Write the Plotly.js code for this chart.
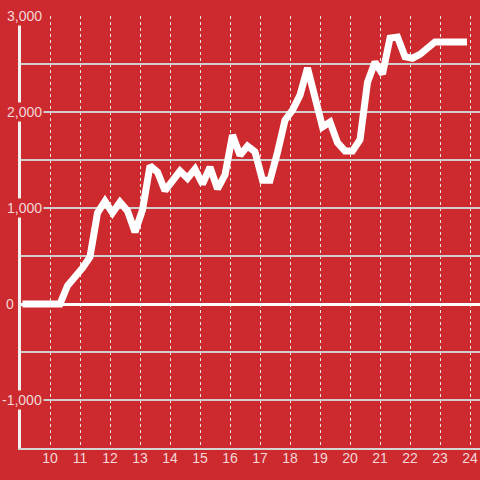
<!DOCTYPE html>
<html>
<head>
<meta charset="utf-8">
<script src="https://cdn.plot.ly/plotly-3.0.1.min.js"></script>
<style>
html,body{margin:0;padding:0;background:#cc2a2f;}
#chart{width:480px;height:480px;}
</style>
</head>
<body>
<div id="chart"></div>
<script>
// hours of day (decimal)
const hours = [9.083, 9.333, 9.583, 9.833, 10.083, 10.333, 10.583, 10.833, 11.083, 11.333,
  11.583, 11.833, 12.083, 12.333, 12.583, 12.833, 13.083, 13.333, 13.583, 13.833,
  14.083, 14.333, 14.583, 14.833, 15.083, 15.333, 15.583, 15.833, 16.083, 16.333,
  16.583, 16.833, 17.083, 17.333, 17.583, 17.833, 18.083, 18.333, 18.583, 18.833,
  19.083, 19.333, 19.583, 19.833, 20.083, 20.333, 20.583, 20.833, 21.083, 21.333,
  21.583, 21.833, 22.083, 22.333, 22.583, 22.833, 23.083, 23.333, 23.583, 23.9];
const values = [0, 0, 0, 0, 0, 0, 190, 270, 375, 490,
  950, 1070, 950, 1060, 970, 750, 980, 1440, 1375, 1180,
  1280, 1385, 1310, 1405, 1250, 1425, 1200, 1345, 1760, 1550,
  1645, 1585, 1290, 1290, 1580, 1915, 2020, 2175, 2460, 2125,
  1845, 1895, 1680, 1595, 1595, 1710, 2310, 2520, 2395, 2770,
  2780, 2575, 2560, 2600, 2655, 2730, 2730, 2730, 2730, 2730];
const xTicks = [10, 11, 12, 13, 14, 15, 16, 17, 18, 19, 20, 21, 22, 23, 24];
const yLabelValues = [3000, 2000, 1000, 0, -1000];
const yLabelTexts = ["3,000", "2,000", "1,000", "0", "-1,000"];

const RED = '#cc2a2f';
const TXT = '#f4d6d7';

const annotations = yLabelValues.map((v, i) => ({
  xref: 'paper', yref: 'y',
  x: v === 0 ? -0.011 : 0.051, y: v,
  xanchor: 'right', yanchor: 'middle',
  text: yLabelTexts[i], showarrow: false,
  bgcolor: RED, borderpad: 1,
  font: {family: 'Liberation Sans, Arial, sans-serif', size: 14, color: TXT}
}));

const trace = {
  x: hours, y: values, type: 'scatter', mode: 'lines',
  line: {color: '#ffffff', width: 7},
  hoverinfo: 'skip'
};

const layout = {
  width: 480, height: 480,
  margin: {l: 21, r: 0, t: 16, b: 32, pad: 0},
  paper_bgcolor: RED, plot_bgcolor: RED,
  showlegend: false,
  font: {family: 'Liberation Sans, Arial, sans-serif', size: 14, color: TXT},
  xaxis: {
    range: [9.033, 24.333],
    tickvals: xTicks, ticktext: xTicks.map(String),
    showgrid: true, gridcolor: '#e8e8e8', gridwidth: 1, griddash: 'dot',
    zeroline: false,
    showline: true, linecolor: '#d4d4d4', linewidth: 2,
    ticks: '', ticklen: 0, ticklabelstandoff: -4,
    tickfont: {size: 14, color: TXT},
    fixedrange: true
  },
  yaxis: {
    range: [-1500, 3000], dtick: 500, tick0: 0,
    showticklabels: false, ticks: '',
    showgrid: true, gridcolor: '#cfcfcf', gridwidth: 1.5,
    zeroline: true, zerolinecolor: '#ffffff', zerolinewidth: 3,
    showline: true, linecolor: '#f2f2f2', linewidth: 3,
    fixedrange: true
  },
  annotations: annotations
};

Plotly.newPlot('chart', [trace], layout, {displayModeBar: false, staticPlot: true});
</script>
</body>
</html>
